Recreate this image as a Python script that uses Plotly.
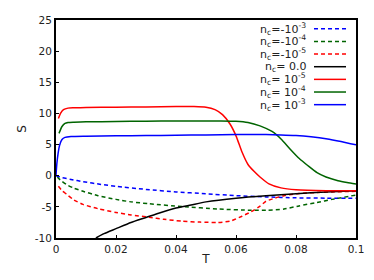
import plotly.graph_objects as go

# ---- data ----
t_p3 = [0, 0.0003, 0.0007, 0.0012, 0.002, 0.003, 0.005, 0.01, 0.02, 0.03, 0.04, 0.05, 0.06, 0.07, 0.075, 0.08, 0.085, 0.09, 0.095, 0.1]
s_p3 = [0.1, 2.0, 3.6, 4.9, 5.8, 6.15, 6.3, 6.35, 6.4, 6.45, 6.5, 6.55, 6.6, 6.6, 6.55, 6.45, 6.25, 5.95, 5.5, 4.95]

t_p4 = [0.001, 0.002, 0.003, 0.004, 0.006, 0.01, 0.02, 0.03, 0.04, 0.05, 0.055, 0.06, 0.064, 0.068, 0.072, 0.075, 0.078, 0.081, 0.084, 0.087, 0.09, 0.094, 0.097, 0.1]
s_p4 = [6.8, 7.9, 8.4, 8.55, 8.6, 8.65, 8.7, 8.75, 8.8, 8.8, 8.8, 8.75, 8.55, 8.0, 7.1, 5.9, 4.3, 2.8, 1.6, 0.5, -0.2, -0.8, -1.1, -1.35]

t_p5 = [0.0008, 0.0015, 0.0025, 0.004, 0.006, 0.01, 0.02, 0.03, 0.04, 0.046, 0.05, 0.053, 0.0555, 0.058, 0.06, 0.062, 0.064, 0.066, 0.068, 0.071, 0.075, 0.08, 0.09, 0.1]
s_p5 = [9.2, 10.0, 10.6, 10.85, 10.9, 10.95, 11.0, 11.05, 11.1, 11.1, 11.0, 10.6, 9.8, 8.3, 6.4, 3.8, 1.8, 0.7, -0.2, -1.3, -1.95, -2.25, -2.4, -2.4]

t_0 = [0.0133, 0.016, 0.02, 0.025, 0.03, 0.035, 0.04, 0.045, 0.05, 0.06, 0.07, 0.08, 0.09, 0.1]
s_0 = [-10, -9.3, -8.5, -7.5, -6.7, -5.9, -5.2, -4.7, -4.2, -3.6, -3.2, -2.9, -2.6, -2.4]

t_m3 = [0, 0.002, 0.005, 0.009, 0.015, 0.02, 0.03, 0.04, 0.05, 0.06, 0.07, 0.08, 0.09, 0.1]
s_m3 = [0, -0.3, -0.6, -0.95, -1.4, -1.7, -2.2, -2.6, -2.9, -3.2, -3.4, -3.55, -3.6, -3.6]

t_m4 = [0.0005, 0.001, 0.002, 0.0036, 0.006, 0.009, 0.014, 0.02, 0.025, 0.031, 0.042, 0.054, 0.065, 0.07, 0.076, 0.081, 0.087, 0.092, 0.1]
s_m4 = [-0.2, -0.5, -0.9, -1.45, -2.0, -2.5, -3.2, -3.8, -4.2, -4.5, -4.95, -5.35, -5.55, -5.55, -5.35, -4.85, -4.3, -3.8, -3.1]

t_m5 = [0.0008, 0.002, 0.0036, 0.006, 0.009, 0.014, 0.02, 0.025, 0.031, 0.036, 0.042, 0.048, 0.054, 0.058, 0.062, 0.065, 0.068, 0.07, 0.073, 0.076, 0.081, 0.087, 0.092, 0.1]
s_m5 = [-1.7, -2.4, -3.0, -3.9, -4.6, -5.3, -5.9, -6.3, -6.67, -7.0, -7.3, -7.45, -7.5, -7.3, -6.5, -5.8, -4.9, -4.1, -3.6, -3.2, -2.85, -2.7, -2.6, -2.5]

x_tickvals = [0, 0.02, 0.04, 0.06, 0.08, 0.1]
x_ticktext = ["0", "0.02", "0.04", "0.06", "0.08", "0.1"]
y_tickvals = [-10, -5, 0, 5, 10, 15, 20, 25]
y_ticktext = ["-10", "-5", "0", "5", "10", "15", "20", "25"]

legend_labels = [
    "n<sub>c</sub>=-10<sup>-3</sup>",
    "n<sub>c</sub>=-10<sup>-4</sup>",
    "n<sub>c</sub>=-10<sup>-5</sup>",
    "n<sub>c</sub>= 0.0",
    "n<sub>c</sub>= 10<sup>-5</sup>",
    "n<sub>c</sub>= 10<sup>-4</sup>",
    "n<sub>c</sub>= 10<sup>-3</sup>",
]

BLUE, GREEN, RED, BLACK = "#0000ff", "#006400", "#ff0000", "#000000"
DASH = "4px,3px"

series = [
    (t_m3, s_m3, BLUE, DASH),
    (t_m4, s_m4, GREEN, DASH),
    (t_m5, s_m5, RED, DASH),
    (t_0, s_0, BLACK, "solid"),
    (t_p5, s_p5, RED, "solid"),
    (t_p4, s_p4, GREEN, "solid"),
    (t_p3, s_p3, BLUE, "solid"),
]

fig = go.Figure()
for (t, s, c, d), name in zip(series, legend_labels):
    fig.add_trace(go.Scatter(x=t, y=s, mode="lines", name=name,
                             line=dict(color=c, width=1.5, dash=d, shape="spline", smoothing=0.6),
                             showlegend=False))

# page body has an 8px margin; figure is laid out so the plot lands at the
# reference location (plot box 56..356 x 14..238 in window pixels)
OFF = 8
W, H = 374 - OFF, 280 - OFF
L, R, T, B = 56 - OFF, 18, 14 - OFF, 42
PW, PH = W - L - R, H - T - B

# custom legend (text right-aligned, sample line to the right)
row_px = [23, 36, 49, 62, 75, 88, 101]
for (t, s, c, d), name, ypx in zip(series, legend_labels, row_px):
    yp = (238 - ypx) / PH
    fig.add_annotation(x=(308 - 56) / PW, y=yp, xref="paper", yref="paper",
                       text=name, showarrow=False, xanchor="right", yanchor="middle",
                       font=dict(family="DejaVu Sans", size=11, color="#222222"))
    fig.add_shape(type="line", xref="paper", yref="paper",
                  x0=(314 - 56) / PW, x1=(346 - 56) / PW, y0=yp, y1=yp,
                  line=dict(color=c, width=1.5, dash=d))

axis_common = dict(showline=True, linecolor="black", linewidth=2, mirror=True,
                   ticks="inside", ticklen=3, tickwidth=1, tickcolor="black",
                   showgrid=False, zeroline=False,
                   tickfont=dict(family="DejaVu Sans", size=10.5, color="#222222"))

fig.update_xaxes(range=[0, 0.1], tickvals=x_tickvals, ticktext=x_ticktext,
                 title=dict(text="T", font=dict(family="DejaVu Sans", size=12, color="#222222"), standoff=1),
                 **axis_common)
fig.update_yaxes(range=[-10, 25], tickvals=y_tickvals, ticktext=y_ticktext,
                 title=dict(text="S", font=dict(family="DejaVu Sans", size=12, color="#222222"), standoff=6),
                 **axis_common)

fig.update_layout(width=W, height=H, margin=dict(l=L, r=R, t=T, b=B),
                  paper_bgcolor="white", plot_bgcolor="white", showlegend=False)

fig.write_html("out.html")
